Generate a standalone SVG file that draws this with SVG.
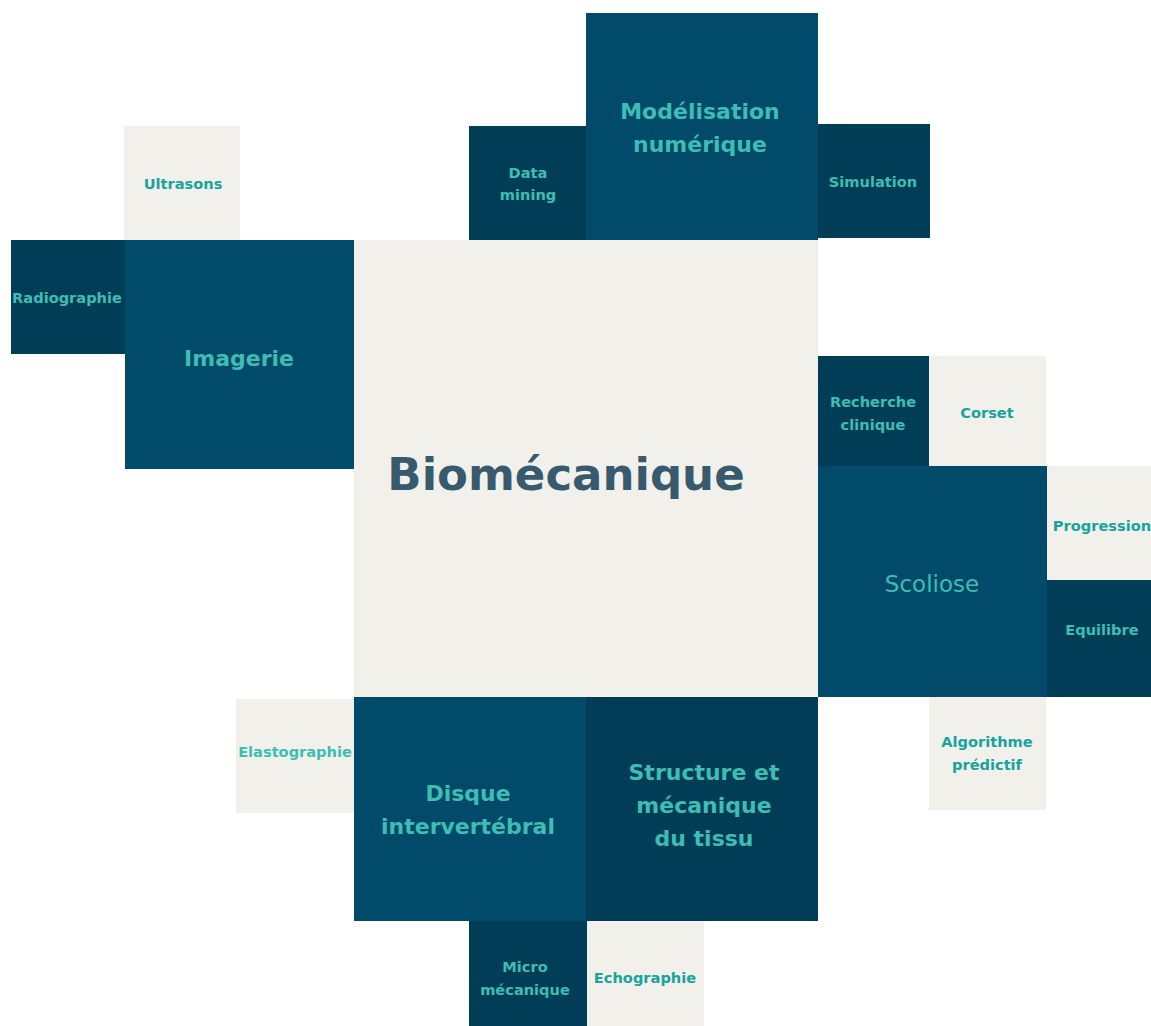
<svg xmlns="http://www.w3.org/2000/svg" width="1151" height="1026" viewBox="0 0 1151 1026">
<style>
.mid{fill:#014a69}
.dark{fill:#023d57}
.light{fill:#f1f0eb}
text{font-family:"DejaVu Sans","Liberation Sans",sans-serif;font-weight:bold;text-anchor:middle}
.s{font-size:14.6px}
.sd{fill:#3dbdb3}
.sl{fill:#18a39d}
.b{font-size:22px;fill:#3dbdb3}
</style>
<rect width="1151" height="1026" fill="#ffffff"/>
<g id="biomecanique">
<rect class="light" x="354" y="240" width="464" height="457"/>
<text x="566" y="490" style="font-size:45px;fill:#385a6e">Biomécanique</text>
</g>
<g id="ultrasons"><rect class="light" x="124" y="126" width="116" height="114"/><text class="s sl" x="183" y="189">Ultrasons</text></g>
<g id="radiographie"><rect class="dark" x="11" y="240" width="114" height="114"/><text class="s sd" x="67" y="303">Radiographie</text></g>
<g id="imagerie"><rect class="mid" x="125" y="240" width="229" height="229"/><text class="b" x="239" y="366">Imagerie</text></g>
<g id="datamining"><rect class="dark" x="469" y="126" width="118" height="114"/><text class="s sd" x="528" y="178">Data</text><text class="s sd" x="528" y="200">mining</text></g>
<g id="modelisation"><rect class="mid" x="586" y="13" width="232" height="227"/><text class="b" x="700" y="119">Modélisation</text><text class="b" x="700" y="152">numérique</text></g>
<g id="simulation"><rect class="dark" x="818" y="124" width="112" height="114"/><text class="s sd" x="873" y="187">Simulation</text></g>
<g id="recherche"><rect class="dark" x="818" y="356" width="111" height="110"/><text class="s sd" x="873" y="407">Recherche</text><text class="s sd" x="873" y="430">clinique</text></g>
<g id="corset"><rect class="light" x="929" y="356" width="117" height="110"/><text class="s sl" x="987" y="418">Corset</text></g>
<g id="scoliose"><rect class="mid" x="818" y="466" width="229" height="231"/><text x="932" y="592" style="font-size:23px;font-weight:normal;fill:#3dbdb3">Scoliose</text></g>
<g id="progression"><rect class="light" x="1047" y="466" width="104" height="114"/><text class="s sl" x="1102" y="531">Progression</text></g>
<g id="equilibre"><rect class="dark" x="1047" y="580" width="104" height="117"/><text class="s sd" x="1102" y="635">Equilibre</text></g>
<g id="algorithme"><rect class="light" x="929" y="697" width="117" height="113"/><text class="s sl" x="987" y="747">Algorithme</text><text class="s sl" x="987" y="770">prédictif</text></g>
<g id="elastographie"><rect class="light" x="236" y="699" width="118" height="114"/><text class="s sd" x="295" y="757">Elastographie</text></g>
<g id="disque"><rect class="mid" x="354" y="697" width="232" height="224"/><text class="b" x="468" y="801">Disque</text><text class="b" x="468" y="834">intervertébral</text></g>
<g id="structure"><rect class="dark" x="586" y="697" width="232" height="224"/><text class="b" x="704" y="780">Structure et</text><text class="b" x="704" y="813">mécanique</text><text class="b" x="704" y="846">du tissu</text></g>
<g id="micro"><rect class="dark" x="469" y="921" width="118" height="105"/><text class="s sd" x="525" y="972">Micro</text><text class="s sd" x="525" y="995">mécanique</text></g>
<g id="echographie"><rect class="light" x="587" y="921" width="117" height="105"/><text class="s sl" x="645" y="983">Echographie</text></g>
<g id="connectors"></g>
</svg>
